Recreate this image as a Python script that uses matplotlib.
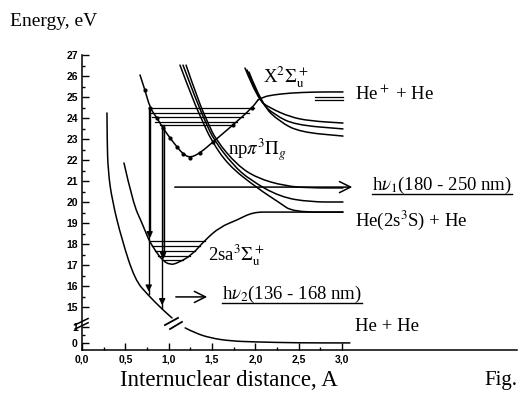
import numpy as np
import matplotlib.pyplot as plt
from matplotlib.lines import Line2D
from matplotlib.path import Path
from matplotlib.patches import PathPatch

plt.rcParams['mathtext.fontset'] = 'stix'
SERIF = 'Liberation Serif'

# lower (broken) part of the energy axis: E=0..1 drawn below the break
LOW_U0 = 13.29
LOW_K = 0.76


def low(e):
    return LOW_U0 + np.asarray(e) * LOW_K


# repulsive ground-state wall (upper part, eV)
a_r = [0.288, 0.29, 0.30, 0.346, 0.461, 0.611, 0.761, 0.934, 1.038]
a_e = [24.24, 22.95, 21.52, 20.10, 18.19, 16.29, 15.57, 14.86, 14.48]

# ground state He + He below the break (eV)
g_r = [1.19, 1.30, 1.48, 1.71, 2.0, 2.51, 3.09]
g_e = [0.94, 0.63, 0.31, 0.12, 0.06, 0.0, 0.0]

# 2sa 3Sigma_u+ well
b_r = [0.484, 0.588, 0.692, 0.761, 0.784, 0.842, 0.923, 1.015, 1.107, 1.269,
       1.419, 1.592, 1.788, 1.972, 2.203, 3.010]
b_e = [21.86, 19.95, 19.00, 18.29, 18.10, 17.71, 17.24, 17.00, 17.10, 17.48,
       18.19, 18.81, 19.14, 19.52, 19.52, 19.52]

# vibrational levels of 2sa well: energy, left r, right r
w_lev = [18.14, 17.90, 17.67, 17.43, 17.24]
w_left = [0.784, 0.807, 0.842, 0.877, 0.923]
w_right = [1.419, 1.361, 1.303, 1.246, 1.165]

# npπ 3Πg (dotted) well
d_r = [0.669, 0.727, 0.784, 0.865, 0.934, 1.015, 1.096, 1.165, 1.246, 1.361,
       1.511, 1.742, 1.961, 2.03]
d_e = [26.05, 25.33, 24.48, 24.00, 23.52, 23.05, 22.62, 22.29, 22.10, 22.33,
       22.86, 23.67, 24.48, 24.86]

# X 2Sigma_u+ going to He+ + He
x_r = [2.03, 2.088, 2.203, 2.399, 2.687, 3.010]
x_e = [24.86, 25.00, 25.10, 25.19, 25.24, 25.24]
hep_lev = [25.00, 24.86]
hep_left = 2.687
hep_right = 3.010

# upper vibrational levels
u_lev = [24.48, 24.24, 24.05, 23.81, 23.67]
u_left = [0.784, 0.784, 0.807, 0.842, 0.900]
u_right = [1.98, 1.93, 1.86, 1.79, 1.71]

# repulsive states converging near He+ + He
t1_r = [1.880, 2.030, 2.168, 2.399, 2.630, 3.010]
t1_e = [26.38, 24.86, 24.48, 24.05, 23.86, 23.76]
t2_r = [1.903, 2.053, 2.226, 2.457, 3.010]
t2_e = [26.29, 24.76, 24.14, 23.67, 23.48]
t3_r = [1.926, 2.076, 2.284, 2.514, 3.010]
t3_e = [26.19, 24.62, 23.81, 23.33, 23.14]

# repulsive states converging near He(2s3S) + He
m1_r = [1.20, 1.338, 1.453, 1.546, 1.788, 2.018, 2.341, 2.630, 3.010]
m1_e = [26.52, 24.86, 23.76, 22.95, 21.76, 21.14, 20.76, 20.67, 20.67]
m2_r = [1.165, 1.315, 1.430, 1.522, 1.742, 1.938, 2.284, 2.630, 3.010]
m2_e = [26.52, 24.86, 23.76, 22.95, 21.76, 21.05, 20.24, 20.00, 20.00]
m3_r = [1.13, 1.280, 1.400, 1.490, 1.684, 2.018, 2.284, 2.434, 3.010]
m3_e = [26.52, 24.86, 23.76, 22.95, 21.76, 20.67, 19.95, 19.52, 19.52]

# transitions
hv1_e, hv1_r0, hv1_r1 = 20.71, 1.038, 3.149
hv2_e, hv2_r0, hv2_r1 = 15.48, 1.05, 1.476
down1 = (0.79, 24.48, 18.14, 15.6)
down2 = (0.945, 23.67, 17.15, 14.95)

y_ticks = list(range(15, 28))
x_ticks = [0, 0.5, 1.0, 1.5, 2.0, 2.5, 3.0]
x_labels = ['0,0', '0,5', '1,0', '1,5', '2,0', '2,5', '3,0']


def curve(ax, r, e, lw=1.1):
    # smooth quadratic bezier through the read points
    pts = np.column_stack([r, e])
    verts = [pts[0]]
    codes = [Path.MOVETO]
    for i in range(1, len(pts) - 1):
        verts += [pts[i], (pts[i] + pts[i + 1]) / 2]
        codes += [Path.CURVE3, Path.CURVE3]
    verts.append(pts[-1])
    codes.append(Path.LINETO)
    ax.add_patch(PathPatch(Path(verts, codes), fill=False, ec='k', lw=lw,
                           capstyle='round'))


fig = plt.figure(figsize=(5.22, 3.95), dpi=100)
ax = fig.add_axes([82 / 522, 1 - 350 / 395, 435 / 522, 295 / 395])
ax.set_xlim(0, 435 / 86.7)
ax.set_ylim(27 - 295 / 21, 27)

curve(ax, a_r, a_e)
curve(ax, g_r, low(g_e))
curve(ax, b_r, b_e)
for e, l, r in zip(w_lev, w_left, w_right):
    ax.plot([l, r], [e, e], 'k', lw=0.9)
curve(ax, d_r, d_e)
ax.plot(d_r[1:-1], d_e[1:-1], 'k.', ms=4)
curve(ax, x_r, x_e)
for e in hep_lev:
    ax.plot([hep_left, hep_right], [e, e], 'k', lw=0.9)
for e, l, r in zip(u_lev, u_left, u_right):
    ax.plot([l, r], [e, e], 'k', lw=0.9)
for rr, ee in [(t1_r, t1_e), (t2_r, t2_e), (t3_r, t3_e),
               (m1_r, m1_e), (m2_r, m2_e), (m3_r, m3_e)]:
    curve(ax, rr, ee)

# vertical transitions (double line in upper part)
for r, e0, e1, e2 in [down1, down2]:
    ax.fill_betweenx([e1, e0], r - 0.02, r, color='0.6', lw=0)
    ax.plot([r - 0.02, r - 0.02], [e0, e2], 'k', lw=1)
    ax.plot([r, r], [e0, e1 + 0.3], 'k', lw=1)
    ax.annotate('', xy=(r - 0.01, e1), xytext=(r - 0.01, e1 + 0.5),
                arrowprops=dict(arrowstyle='-|>', color='k', lw=1,
                                mutation_scale=9))
    ax.annotate('', xy=(r - 0.02, e2), xytext=(r - 0.02, e2 + 0.5),
                arrowprops=dict(arrowstyle='-|>', color='k', lw=1,
                                mutation_scale=9))

ax.annotate('', xy=(hv1_r1, hv1_e), xytext=(hv1_r0, hv1_e),
            arrowprops=dict(arrowstyle='->', color='k', lw=1.1,
                            mutation_scale=20))
ax.annotate('', xy=(hv2_r1, hv2_e), xytext=(hv2_r0, hv2_e),
            arrowprops=dict(arrowstyle='->', color='k', lw=1.1,
                            mutation_scale=20))

# break marks on curve and axis
ax.plot([0.957, 1.107], [14.14, 14.48], 'k', lw=1.3)
ax.plot([1.015, 1.153], [13.95, 14.29], 'k', lw=1.3)
ax.plot([-0.08, 0.07], [14.15, 14.45], 'k', lw=1.1, clip_on=False)
ax.plot([-0.08, 0.07], [13.95, 14.25], 'k', lw=1.1, clip_on=False)

# axes styling
for s in ['top', 'right']:
    ax.spines[s].set_visible(False)
ax.spines['left'].set_linewidth(1.1)
ax.spines['bottom'].set_linewidth(1.1)
ax.set_yticks(list(low([0, 1])) + y_ticks)
ax.set_yticklabels(['0', '1'] + [str(t) for t in y_ticks])
ax.set_yticks(list(low([0.5])) + [t + 0.5 for t in y_ticks[:-1]], minor=True)
ax.set_xticks(x_ticks)
ax.set_xticklabels(x_labels)
ax.set_xticks([0.25, 0.75, 1.25, 1.75, 2.25, 2.75], minor=True)
ax.tick_params(which='both', direction='in', width=1)
ax.tick_params(which='major', length=5, pad=3)
ax.tick_params(which='minor', length=2.5)
for lab in ax.get_xticklabels() + ax.get_yticklabels():
    lab.set_fontfamily('Liberation Sans')
    lab.set_fontweight('bold')
    lab.set_fontsize(7.5)

fs = 13.5
txt = dict(fontfamily=SERIF, fontsize=fs, va='center', ha='left')
ax.text(2.088, 25.95, r'X$^2\Sigma^+_{\mathrm{u}}$', **txt)
ax.text(3.149, 25.15, r'He$^+$ + He', **txt)
ax.text(1.684, 22.5, r'np$\pi^3\Pi_g$', **txt)
t1 = ax.text(3.345, 20.8, r'h$\nu_1$(180 - 250 nm)', **txt)
ax.text(3.149, 19.14, r'He(2s$^3$S) + He', **txt)
ax.text(1.453, 17.45, r'2sa$^3\Sigma^+_{\mathrm{u}}$', **txt)
t2 = ax.text(1.615, 15.62, r'h$\nu_2$(136 - 168 nm)', **txt)
ax.text(3.149, 14.05, 'He + He', **txt)

fig.text(10 / 522, 1 - 22 / 395, 'Energy, eV', fontfamily=SERIF,
         fontsize=14, va='center', ha='left')
fig.text(120 / 522, 1 - 380 / 395, 'Internuclear distance, A',
         fontfamily=SERIF, fontsize=16.5, va='center', ha='left')
fig.text(484 / 522, 1 - 381 / 395, 'Fig.', fontfamily=SERIF,
         fontsize=15, va='center', ha='left')

fig.canvas.draw()
inv = fig.transFigure.inverted()
for t in [t1, t2]:
    bb = t.get_window_extent().transformed(inv)
    fig.add_artist(Line2D([bb.x0, bb.x1], [bb.y0 + 0.004, bb.y0 + 0.004],
                          transform=fig.transFigure, color='k', lw=1))

fig.savefig('out.png', dpi=100)
